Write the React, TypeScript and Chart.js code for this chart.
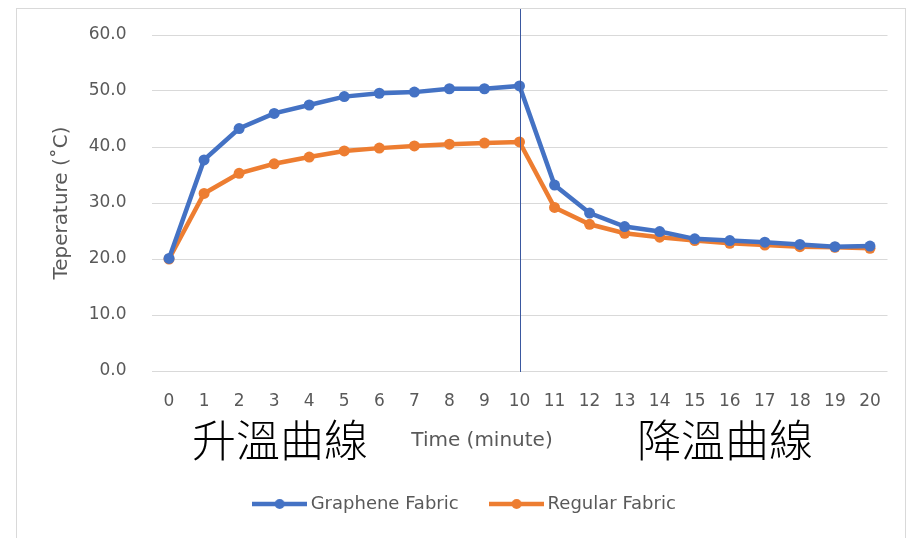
import React, { useEffect, useRef } from "react";
import { Chart, registerables } from "chart.js";

Chart.register(...registerables);

const minutes = ["0","1","2","3","4","5","6","7","8","9","10","11","12","13","14","15","16","17","18","19","20"];
const grapheneFabric = [20.1, 37.7, 43.3, 46.0, 47.5, 49.0, 49.6, 49.8, 50.4, 50.4, 50.9, 33.2, 28.2, 25.8, 24.9, 23.6, 23.3, 23.0, 22.6, 22.2, 22.3];
const regularFabric = [20.0, 31.7, 35.3, 37.0, 38.2, 39.3, 39.8, 40.2, 40.5, 40.7, 40.9, 29.2, 26.2, 24.6, 23.9, 23.3, 22.8, 22.5, 22.2, 22.1, 21.9];
const seriesNames = ["Graphene Fabric", "Regular Fabric"];
const seriesColors = ["#4472C4", "#ED7D31"];
const yTicks = { min: 0, max: 60, step: 10 };
const dividerMinute = 10;
const xTitle = { text: "Time (minute)", at: 8.93 };
const phaseLabels = [
  { text: "升溫曲線", at: 3.17 },
  { text: "降溫曲線", at: 15.86 },
];

const FONT = '"DejaVu Sans", sans-serif';
const GRAY = "#595959";

function legendImage(color: string) {
  const c = document.createElement("canvas");
  c.width = 55;
  c.height = 12;
  const ctx = c.getContext("2d")!;
  ctx.strokeStyle = color;
  ctx.lineWidth = 4.5;
  ctx.beginPath();
  ctx.moveTo(0, 6);
  ctx.lineTo(55, 6);
  ctx.stroke();
  ctx.fillStyle = color;
  ctx.beginPath();
  ctx.arc(27.5, 6, 5, 0, Math.PI * 2);
  ctx.fill();
  return c;
}

const overlayPlugin = {
  id: "overlay",
  afterDatasetsDraw(chart: any) {
    const { ctx, chartArea, scales } = chart;
    const x = Math.round(scales.x.getPixelForValue(dividerMinute)) + 0.5;
    ctx.save();
    ctx.strokeStyle = "#3A58A0";
    ctx.lineWidth = 1;
    ctx.beginPath();
    ctx.moveTo(x, 0);
    ctx.lineTo(x, chartArea.bottom + 1);
    ctx.stroke();
    ctx.restore();
  },
  afterDraw(chart: any) {
    const { ctx, chartArea, scales } = chart;
    ctx.save();
    ctx.textAlign = "center";
    ctx.textBaseline = "middle";
    ctx.fillStyle = GRAY;
    ctx.font = '20px "DejaVu Sans", sans-serif';
    ctx.fillText(xTitle.text, scales.x.getPixelForValue(xTitle.at), chartArea.bottom + 70);
    ctx.fillStyle = "#000";
    ctx.font = '300 44px "Noto Sans CJK TC", sans-serif';
    for (const p of phaseLabels) {
      ctx.fillText(p.text, scales.x.getPixelForValue(p.at), chartArea.bottom + 69);
    }
    ctx.restore();
  },
};

export default function App() {
  const ref = useRef<HTMLCanvasElement>(null);
  useEffect(() => {
    const images = seriesColors.map(legendImage);
    const chart = new Chart(ref.current!, {
      type: "line",
      data: {
        labels: minutes,
        datasets: [
          {
            label: seriesNames[0],
            data: grapheneFabric,
            borderColor: seriesColors[0],
            backgroundColor: seriesColors[0],
            borderWidth: 4.5,
            pointRadius: 5.5,
            pointBorderWidth: 0,
            pointBackgroundColor: seriesColors[0],
            tension: 0,
          },
          {
            label: seriesNames[1],
            data: regularFabric,
            borderColor: seriesColors[1],
            backgroundColor: seriesColors[1],
            borderWidth: 4.5,
            pointRadius: 5.5,
            pointBorderWidth: 0,
            pointBackgroundColor: seriesColors[1],
            tension: 0,
          },
        ],
      },
      options: {
        responsive: false,
        maintainAspectRatio: false,
        animation: false,
        devicePixelRatio: 1,
        layout: { padding: { left: 29, right: 17.5, top: 26, bottom: 15 } },
        plugins: {
          tooltip: { enabled: false },
          legend: {
            position: "bottom",
            labels: {
              usePointStyle: true,
              pointStyleWidth: 44,
              padding: 36,
              color: GRAY,
              font: { family: FONT, size: 18 },
              generateLabels(chart: any) {
                const items = Chart.defaults.plugins.legend.labels.generateLabels(chart);
                return items.map((it: any, i: number) => ({ ...it, pointStyle: images[i] }));
              },
            },
          },
        },
        scales: {
          x: {
            type: "category",
            offset: true,
            grid: { display: false, drawTicks: false },
            border: { display: false },
            ticks: { color: GRAY, font: { family: FONT, size: 17 }, padding: 20, maxRotation: 0, autoSkip: false },
            title: { display: false },
            afterFit(scale: any) {
              const legendH = scale.chart.legend ? scale.chart.legend.height : 0;
              scale.height = Math.max(0, scale.chart.height - 15 - legendH - 362);
            },
          },
          y: {
            min: yTicks.min,
            max: yTicks.max,
            grid: { color: "#D9D9D9", lineWidth: 1, drawTicks: true, tickLength: 25, tickColor: "rgba(0,0,0,0)" },
            border: { display: false },
            ticks: {
              stepSize: yTicks.step,
              color: GRAY,
              font: { family: FONT, size: 17 },
              padding: 0,
              callback: (v: any) => Number(v).toFixed(1),
            },
            title: {
              display: true,
              text: "Teperature (˚C)",
              color: GRAY,
              font: { family: FONT, size: 20 },
              padding: { top: 4, bottom: 0 },
            },
            afterFit(scale: any) {
              scale.width = 105.5;
            },
          },
        },
      },
      plugins: [overlayPlugin],
    });
    return () => chart.destroy();
  }, []);

  return (
    <div
      style={{
        marginLeft: 8,
        width: 888,
        height: 529,
        border: "1px solid #D9D9D9",
        borderBottom: "none",
        background: "#fff",
      }}
    >
      <canvas ref={ref} width={888} height={529} style={{ display: "block", width: 888, height: 529 }} />
    </div>
  );
}
